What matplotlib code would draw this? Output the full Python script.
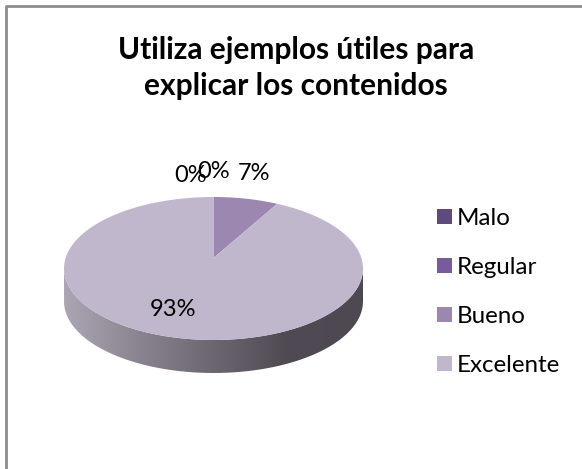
import numpy as np
import matplotlib
matplotlib.use('Agg')
import matplotlib.pyplot as plt
from matplotlib.patches import Polygon, Rectangle, PathPatch
from matplotlib.path import Path
from matplotlib.colors import LinearSegmentedColormap

# data
categories = ['Malo', 'Regular', 'Bueno', 'Excelente']
values = [0, 0, 7, 93]
labels = ['0%', '0%', '7%', '93%']
colors = ['#604a7b', '#775b9b', '#9b87b0', '#c0b7cd']

plt.rcParams['font.family'] = ['Lato', 'DejaVu Sans']

fig = plt.figure(figsize=(5.82, 4.69), dpi=100)
ax = fig.add_axes([0, 0, 1, 1])
ax.set_xlim(0, 582)
ax.set_ylim(469, 0)
ax.axis('off')

# chart frame, only top and left show in the crop
ax.plot([5.5, 5.5, 582], [469, 6, 6], color='#8c8c8c', lw=2, solid_capstyle='butt', zorder=1)

# pie geometry (pixels)
cx, cy = 213.5, 268.5
rx, ry = 149.5, 71.5
apex_y = 258
depth = 33


def rim(frac):
    # point on top ellipse, frac goes clockwise from 12 o'clock
    a = 2 * np.pi * np.asarray(frac)
    return cx + rx * np.sin(a), cy - ry * np.cos(a)


# side of the disc with a horizontal gradient
t = np.linspace(0.25, 0.75, 120)
xs, ys = rim(t)
side = np.column_stack([np.r_[xs, xs[::-1]], np.r_[ys, ys[::-1] + depth]])
side_patch = PathPatch(Path(side), fc='none', ec='none')
ax.add_patch(side_patch)
cmap = LinearSegmentedColormap.from_list('side', ['#aca5b4', '#8a8490', '#6b6770', '#4f4a52', '#4d4852'])
grad = np.linspace(0, 1, 256).reshape(1, -1)
img = ax.imshow(grad, extent=[cx - rx, cx + rx, cy + ry + depth, cy], cmap=cmap,
                aspect='auto', zorder=2, vmin=0, vmax=1)
img.set_clip_path(side_patch)
ax.set_xlim(0, 582)
ax.set_ylim(469, 0)

# top face: one polygon per slice, sized from values
total = float(sum(values))
start = 0.0
for v, c in zip(values, colors):
    frac = v / total
    if frac > 0:
        n = max(int(frac * 360), 2)
        px, py = rim(np.linspace(start, start + frac, n))
        pts = np.column_stack([np.r_[cx, px], np.r_[apex_y, py]])
        ax.add_patch(Polygon(pts, closed=True, fc=c, ec='none', zorder=3))
    start += frac

# percent labels
label_xy = [(191, 176), (214, 172), (254, 173), (173, 310)]
for s, (x, y) in zip(labels, label_xy):
    ax.text(x, y, s, ha='center', va='center', fontsize=17, color='black', zorder=4)

# title
ax.text(296, 68, 'Utiliza ejemplos útiles para\nexplicar los contenidos', ha='center', va='center',
        fontsize=21.5, fontweight='bold', color='black', linespacing=1.38)

# legend
handles = [Rectangle((0, 0), 1, 1, fc=c, ec='none') for c in colors]
ax.legend(handles, categories, loc='upper left', bbox_to_anchor=(437 / 582, 1 - 208 / 469), frameon=False,
          fontsize=17.4, handlelength=0.62, handleheight=0.62, handletextpad=0.2, labelspacing=1.16,
          borderaxespad=0, borderpad=0)

fig.savefig('out.png', dpi=100)
